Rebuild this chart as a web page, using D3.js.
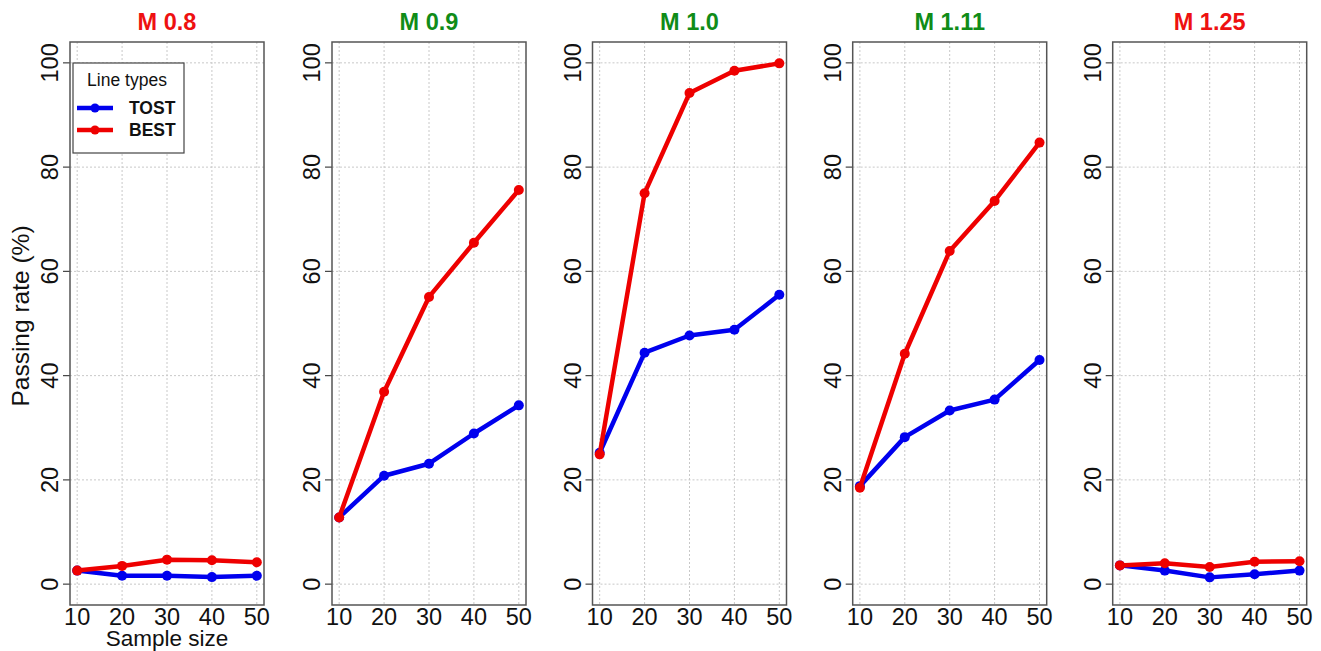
<!DOCTYPE html>
<html lang="en">
<head>
<meta charset="UTF-8">
<title>Passing rate by sample size</title>
<script src="https://cdn.jsdelivr.net/npm/d3@7"></script>
<style>
  body { margin: 0; background: #fff; }
  svg text { font-family: Arial, "Liberation Sans", sans-serif; }
</style>
</head>
<body>
<svg id="chart" width="1321" height="651"></svg>
<script>
// data
var sampleSizes = [10, 20, 30, 40, 50];
var panelTitles = ["M 0.8", "M 0.9", "M 1.0", "M 1.11", "M 1.25"];
var titleColors = ["red", "green", "green", "green", "red"];
var tostRates = [
  [2.6, 1.6, 1.6, 1.35, 1.6],
  [12.8, 20.8, 23.1, 28.9, 34.3],
  [25.2, 44.4, 47.7, 48.8, 55.5],
  [18.8, 28.2, 33.3, 35.4, 43.0],
  [3.6, 2.6, 1.3, 1.9, 2.6]
];
var bestRates = [
  [2.6, 3.5, 4.7, 4.6, 4.2],
  [12.8, 36.9, 55.1, 65.5, 75.6],
  [24.9, 75.0, 94.2, 98.5, 99.9],
  [18.5, 44.2, 63.9, 73.5, 84.7],
  [3.6, 4.0, 3.3, 4.3, 4.4]
];
var yTicks = [0, 20, 40, 60, 80, 100];

var svg = d3.select("#chart");
var plotTop = 42, plotBottom = 605, panelW = 194;
var lefts = [70, 332, 592.5, 852.7, 1112.7];
var colTitle = { red: "#ee1111", green: "#108c18" };

var y = d3.scaleLinear().domain([-4, 104]).range([plotBottom, plotTop]);

lefts.forEach(function(left, p) {
  var x = d3.scaleLinear().domain([8.4, 51.6]).range([left, left + panelW]);
  var g = svg.append("g");

  // grid
  g.selectAll(".vg").data(sampleSizes).enter().append("line")
    .attr("x1", function(d) { return x(d); }).attr("x2", function(d) { return x(d); })
    .attr("y1", plotTop).attr("y2", plotBottom)
    .attr("stroke", "#c8c8c8").attr("stroke-width", 1).attr("stroke-dasharray", "2,2");
  g.selectAll(".hg").data(yTicks).enter().append("line")
    .attr("x1", left).attr("x2", left + panelW)
    .attr("y1", function(d) { return y(d); }).attr("y2", function(d) { return y(d); })
    .attr("stroke", "#c8c8c8").attr("stroke-width", 1).attr("stroke-dasharray", "2,2");

  // y axis ticks + rotated labels
  g.selectAll(".yt").data(yTicks).enter().append("line")
    .attr("x1", left - 7).attr("x2", left)
    .attr("y1", function(d) { return y(d); }).attr("y2", function(d) { return y(d); })
    .attr("stroke", "#444").attr("stroke-width", 1.2);
  g.selectAll(".yl").data(yTicks).enter().append("text")
    .attr("transform", function(d) { return "translate(" + (left - 12) + "," + y(d) + ") rotate(-90)"; })
    .attr("text-anchor", "middle")
    .attr("font-size", 23.5).attr("fill", "#111")
    .text(function(d) { return d; });

  // x labels
  g.selectAll(".xl").data(sampleSizes).enter().append("text")
    .attr("x", function(d) { return x(d); }).attr("y", 625)
    .attr("text-anchor", "middle")
    .attr("font-size", 23.5).attr("fill", "#111")
    .text(function(d) { return d; });

  // lines
  var line = d3.line()
    .x(function(d, i) { return x(sampleSizes[i]); })
    .y(function(d) { return y(d); });
  [[tostRates[p], "#0000ee"], [bestRates[p], "#ee0000"]].forEach(function(s) {
    g.append("path").datum(s[0])
      .attr("d", line).attr("fill", "none")
      .attr("stroke", s[1]).attr("stroke-width", 4.5).attr("stroke-linejoin", "round");
    g.selectAll(null).data(s[0]).enter().append("circle")
      .attr("cx", function(d, i) { return x(sampleSizes[i]); })
      .attr("cy", function(d) { return y(d); })
      .attr("r", 5).attr("fill", s[1]);
  });

  // box
  g.append("rect")
    .attr("x", left).attr("y", plotTop).attr("width", panelW).attr("height", plotBottom - plotTop)
    .attr("fill", "none").attr("stroke", "#555").attr("stroke-width", 1.5);

  // title
  g.append("text")
    .attr("x", left + panelW / 2).attr("y", 30)
    .attr("text-anchor", "middle")
    .attr("font-size", 23.5).attr("font-weight", "bold")
    .attr("fill", colTitle[titleColors[p]])
    .text(panelTitles[p]);
});

// axis titles
svg.append("text")
  .attr("x", 167).attr("y", 646)
  .attr("text-anchor", "middle").attr("font-size", 22.5).attr("fill", "#111")
  .text("Sample size");
svg.append("text")
  .attr("transform", "translate(29,316) rotate(-90)")
  .attr("text-anchor", "middle").attr("font-size", 24.5).attr("fill", "#111")
  .text("Passing rate (%)");

// legend
var lg = svg.append("g");
lg.append("rect").attr("x", 73).attr("y", 63).attr("width", 111).attr("height", 90)
  .attr("fill", "#fff").attr("stroke", "#444").attr("stroke-width", 1.2);
lg.append("text").attr("x", 127).attr("y", 86).attr("text-anchor", "middle")
  .attr("font-size", 17.5).attr("fill", "#111").text("Line types");
[["TOST", "#0000ee", 108], ["BEST", "#ee0000", 130]].forEach(function(d) {
  lg.append("line").attr("x1", 77).attr("x2", 113).attr("y1", d[2]).attr("y2", d[2])
    .attr("stroke", d[1]).attr("stroke-width", 4.5);
  lg.append("circle").attr("cx", 95).attr("cy", d[2]).attr("r", 4.5).attr("fill", d[1]);
  lg.append("text").attr("x", 129).attr("y", d[2] + 6)
    .attr("font-size", 17.5).attr("font-weight", "bold").attr("fill", "#111").text(d[0]);
});
</script>
</body>
</html>
